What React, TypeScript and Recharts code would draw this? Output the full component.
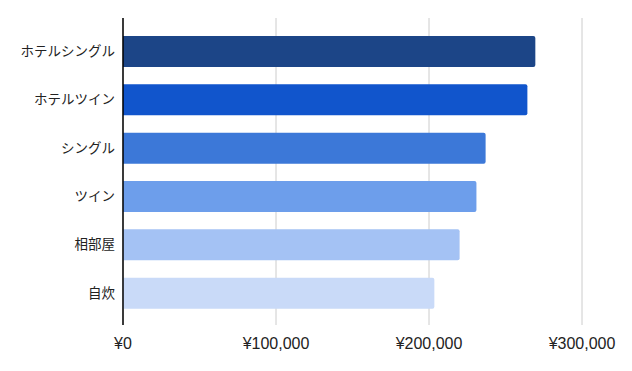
import React from "react";
import { BarChart, Bar, XAxis, YAxis, CartesianGrid, Cell } from "recharts";

const categories = ["ホテルシングル", "ホテルツイン", "シングル", "ツイン", "相部屋", "自炊"];
const costs = [269500, 264300, 237000, 231000, 220000, 203500];
const barColors = ["#1c4587", "#1155cc", "#3c78d8", "#6d9eeb", "#a4c2f4", "#c9daf8"];
const xTicks = [0, 100000, 200000, 300000];

const data = categories.map((name, i) => ({ name, value: costs[i] }));

if (typeof document !== "undefined") {
  document.body.style.margin = "0";
}

const fmt = (v: number) => "¥" + v.toLocaleString("en-US");

export default function App() {
  return (
    <div style={{ width: 632, height: 371, background: "#fff" }}>
      <BarChart
        width={632}
        height={371}
        data={data}
        layout="vertical"
        margin={{ top: 18, right: 50, bottom: 0, left: 0 }}
      >
        <CartesianGrid horizontal={false} stroke="#cccccc" />
        <XAxis
          type="number"
          domain={[0, 300000]}
          ticks={xTicks}
          tickFormatter={fmt}
          axisLine={false}
          tickLine={false}
          tickSize={6}
          tickMargin={7}
          height={46}
          interval={0}
          tick={{ fill: "#222222", fontSize: 16, fontFamily: "'Liberation Sans', Arial, sans-serif" }}
        />
        <YAxis
          type="category"
          dataKey="name"
          width={123}
          axisLine={{ stroke: "#000000", strokeWidth: 1.5 }}
          tickLine={false}
          tickSize={6}
          tickMargin={2}
          padding={{ top: 9, bottom: 8 }}
          interval={0}
          tick={{ fill: "#222222", fontSize: 13.5, fontFamily: "'Noto Sans CJK JP', sans-serif" }}
        />
        <Bar dataKey="value" barSize={31} radius={[0, 2, 2, 0]} isAnimationActive={false}>
          {data.map((d, i) => (
            <Cell key={d.name} fill={barColors[i]} />
          ))}
        </Bar>
      </BarChart>
    </div>
  );
}
